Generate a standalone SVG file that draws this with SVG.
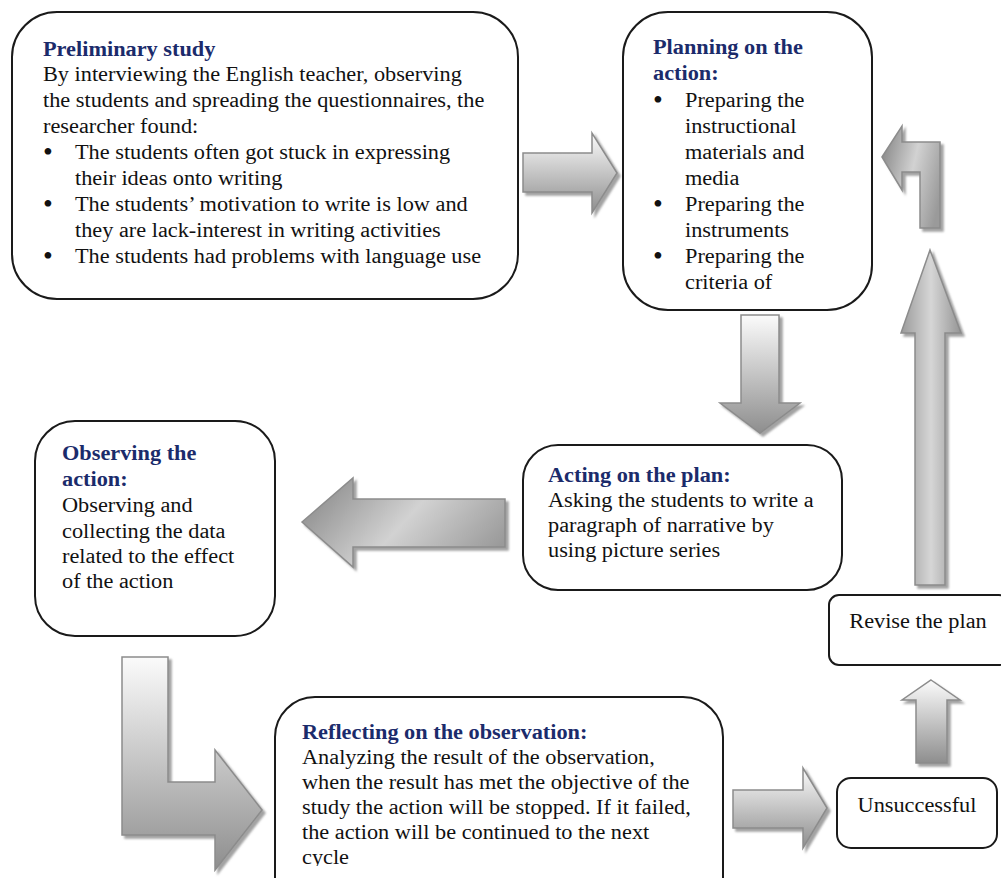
<svg xmlns="http://www.w3.org/2000/svg" width="1001" height="878" viewBox="0 0 1001 878">
<style>
.box{fill:#fff;stroke:#1a1a1a;stroke-width:2}
.t,.h{font-family:"Liberation Serif","Times New Roman",serif;font-size:20px;transform-box:fill-box;transform-origin:0 0;transform:scaleX(1.115)}
.t{fill:#111}
.h{font-weight:bold;fill:#1b2b6b}
.c{text-anchor:middle;transform-origin:50% 0}
.b{font-family:"Liberation Serif","Times New Roman",serif;font-size:28px;fill:#111}
.arr{stroke:#8c8c8c;stroke-width:1.5;filter:url(#sh)}
</style>
<defs>
<filter id="sh" x="-20%" y="-20%" width="140%" height="140%">
<feDropShadow dx="3" dy="3" stdDeviation="0.8" flood-color="#7a7a7a" flood-opacity="0.7"/>
</filter>
<linearGradient id="gv" x1="0" y1="0" x2="0" y2="1">
<stop offset="0" stop-color="#fbfbfb"/><stop offset="1" stop-color="#8e8e8e"/>
</linearGradient>
<linearGradient id="gh" x1="0" y1="0" x2="1" y2="0">
<stop offset="0" stop-color="#9a9a9a"/><stop offset="0.5" stop-color="#d6d6d6"/><stop offset="1" stop-color="#959595"/>
</linearGradient>
<linearGradient id="gd" x1="0" y1="0.3" x2="1" y2="0.7">
<stop offset="0" stop-color="#8e8e8e"/><stop offset="0.5" stop-color="#d2d2d2"/><stop offset="1" stop-color="#9a9a9a"/>
</linearGradient>
<clipPath id="clipPlan"><rect x="623" y="12" width="250" height="277"/></clipPath>
<clipPath id="clipRefl"><rect x="275" y="697" width="450" height="169"/></clipPath>
</defs>

<g id="connectors">
<path class="arr" fill="url(#gv)" d="M523,153 L592,153 L592,133 L617,173 L592,213 L592,192 L523,192 Z"/>
<path class="arr" fill="url(#gv)" d="M741,315 L779,315 L779,403 L800,403 L760,433 L720,403 L741,403 Z"/>
<path class="arr" fill="url(#gd)" d="M302,522 L353,478 L353,499 L505,499 L505,547 L353,547 L353,567 Z"/>
<path class="arr" fill="url(#gv)" d="M122,657 L168,657 L168,782 L215,782 L215,750 L262,810 L215,870 L215,835 L122,835 Z"/>
<path class="arr" fill="url(#gv)" d="M733,790 L803,790 L803,768 L827,808 L803,848 L803,828 L733,828 Z"/>
<path class="arr" fill="url(#gv)" d="M931,680 L960,700 L947,700 L947,763 L916,763 L916,700 L902,700 Z"/>
<path class="arr" fill="url(#gh)" d="M930,250 L961,333 L945,333 L945,585 L915,585 L915,333 L901,333 Z"/>
<path class="arr" fill="url(#gd)" d="M882,157 L902,126 L902,142 L940,142 L940,228 L920,228 L920,172 L902,172 L902,190 Z"/>
</g>

<g id="preliminary">
<rect class="box" x="12" y="12" width="506" height="287" rx="45"/>
<text class="h" x="43" y="56">Preliminary study</text>
<text class="t" x="43" y="81">By interviewing the English teacher, observing</text>
<text class="t" x="43" y="107">the students and spreading the questionnaires, the</text>
<text class="t" x="43" y="133">researcher found:</text>
<text class="b" x="43" y="161">•</text><text class="t" x="75" y="159">The students often got stuck in expressing</text>
<text class="t" x="75" y="185">their ideas onto writing</text>
<text class="b" x="43" y="213">•</text><text class="t" x="75" y="211">The students’ motivation to write is low and</text>
<text class="t" x="75" y="237">they are lack-interest in writing activities</text>
<text class="b" x="43" y="265">•</text><text class="t" x="75" y="263">The students had problems with language use</text>
</g>

<g id="planning">
<rect class="box" x="623" y="12" width="249" height="298" rx="45"/>
<g clip-path="url(#clipPlan)">
<text class="h" x="653" y="54">Planning on the</text>
<text class="h" x="653" y="80">action:</text>
<text class="b" x="653" y="109">•</text><text class="t" x="685" y="107">Preparing the</text>
<text class="t" x="685" y="133">instructional</text>
<text class="t" x="685" y="159">materials and</text>
<text class="t" x="685" y="185">media</text>
<text class="b" x="653" y="213">•</text><text class="t" x="685" y="211">Preparing the</text>
<text class="t" x="685" y="237">instruments</text>
<text class="b" x="653" y="265">•</text><text class="t" x="685" y="263">Preparing the</text>
<text class="t" x="685" y="289">criteria of</text>
</g>
</g>

<g id="observing">
<rect class="box" x="35" y="421" width="240" height="215" rx="40"/>
<text class="h" x="62" y="460">Observing the</text>
<text class="h" x="62" y="486">action:</text>
<text class="t" x="62" y="512">Observing and</text>
<text class="t" x="62" y="538">collecting the data</text>
<text class="t" x="62" y="563">related to the effect</text>
<text class="t" x="62" y="588">of the action</text>
</g>

<g id="acting">
<rect class="box" x="523" y="445" width="319" height="145" rx="35"/>
<text class="h" x="548" y="482">Acting on the plan:</text>
<text class="t" x="548" y="507">Asking the students to write a</text>
<text class="t" x="548" y="532">paragraph of narrative by</text>
<text class="t" x="548" y="557">using picture series</text>
</g>

<g id="reflecting">
<rect class="box" x="275" y="697" width="448" height="220" rx="40"/>
<g clip-path="url(#clipRefl)">
<text class="h" x="302" y="739">Reflecting on the observation:</text>
<text class="t" x="302" y="764">Analyzing the result of the observation,</text>
<text class="t" x="302" y="789">when the result has met the objective of the</text>
<text class="t" x="302" y="814">study the action will be stopped. If it failed,</text>
<text class="t" x="302" y="839">the action will be continued to the next</text>
<text class="t" x="302" y="864">cycle</text>
</g>
</g>

<g id="revise">
<rect class="box" x="829" y="595" width="180" height="70" rx="10"/>
<text class="t c" x="918" y="628">Revise the plan</text>
</g>

<g id="unsuccessful">
<rect class="box" x="837" y="778" width="160" height="70" rx="14"/>
<text class="t c" x="917" y="812">Unsuccessful</text>
</g>
</svg>
